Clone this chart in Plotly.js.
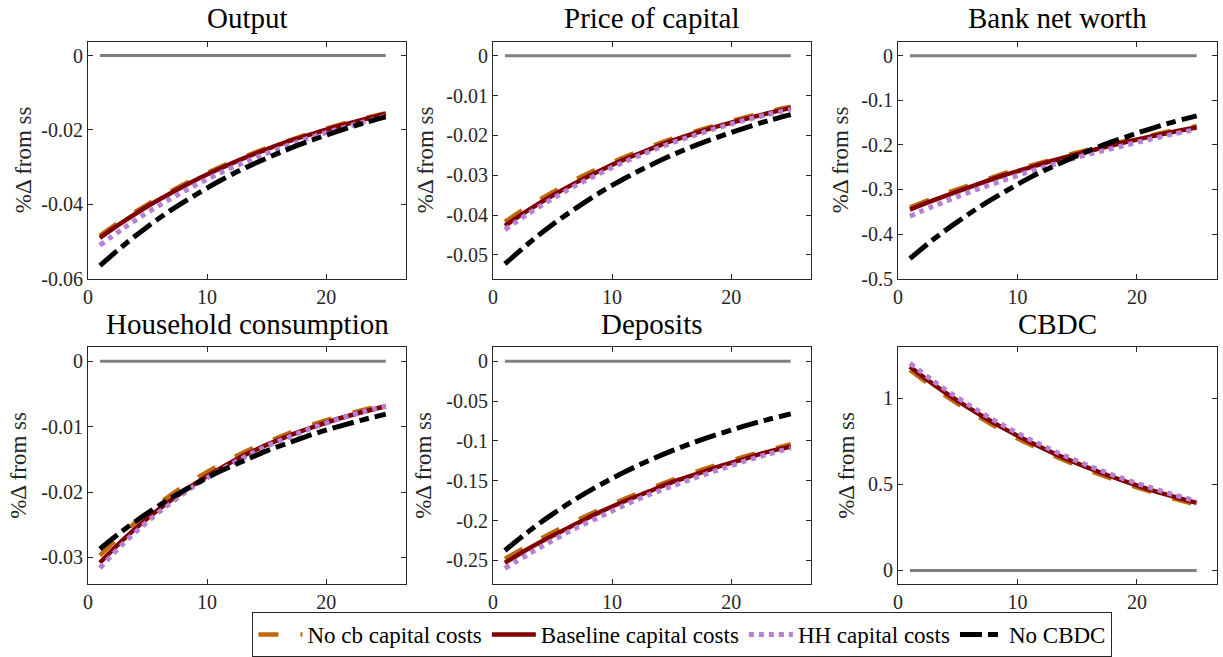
<!DOCTYPE html>
<html>
<head>
<meta charset="utf-8">
<script src="https://cdn.plot.ly/plotly-3.0.1.min.js"></script>
<style>
  html, body { margin: 0; padding: 0; background: #ffffff; }
  #chart { width: 1223px; height: 657px; }
</style>
</head>
<body>
<div id="chart"></div>
<script>
// ---------------- DATA ----------------
const periods = [1, 3, 5, 7, 9, 11, 13, 15, 17, 19, 21, 23, 25];

const panelTitles = ['Output', 'Price of capital', 'Bank net worth',
                     'Household consumption', 'Deposits', 'CBDC'];
const seriesNames = ['No cb capital costs', 'Baseline capital costs', 'HH capital costs', 'No CBDC'];
const yLabel = '%\u0394 from ss';

// Output
const outputNoCb   = [-0.0484,-0.0440,-0.0400,-0.0364,-0.0331,-0.0301,-0.0274,-0.0249,-0.0227,-0.0206,-0.0187,-0.0170,-0.0155];
const outputBase   = [-0.0490,-0.0446,-0.0405,-0.0369,-0.0335,-0.0305,-0.0277,-0.0252,-0.0229,-0.0209,-0.0190,-0.0173,-0.0157];
const outputHH     = [-0.0510,-0.0464,-0.0422,-0.0384,-0.0349,-0.0317,-0.0289,-0.0263,-0.0239,-0.0217,-0.0198,-0.0180,-0.0163];
const outputNoCBDC = [-0.0565,-0.0510,-0.0460,-0.0415,-0.0375,-0.0338,-0.0305,-0.0276,-0.0249,-0.0225,-0.0203,-0.0183,-0.0165];

// Price of capital
const priceNoCb   = [-0.0417,-0.0378,-0.0343,-0.0310,-0.0281,-0.0255,-0.0231,-0.0209,-0.0190,-0.0172,-0.0156,-0.0141,-0.0128];
const priceBase   = [-0.0427,-0.0387,-0.0351,-0.0318,-0.0288,-0.0261,-0.0237,-0.0214,-0.0194,-0.0176,-0.0160,-0.0145,-0.0131];
const priceHH     = [-0.0437,-0.0396,-0.0359,-0.0325,-0.0295,-0.0267,-0.0242,-0.0219,-0.0199,-0.0180,-0.0163,-0.0148,-0.0135];
const priceNoCBDC = [-0.0523,-0.0471,-0.0424,-0.0382,-0.0343,-0.0309,-0.0278,-0.0250,-0.0225,-0.0203,-0.0183,-0.0164,-0.0148];

// Bank net worth
const nwNoCb   = [-0.340,-0.319,-0.299,-0.281,-0.263,-0.247,-0.232,-0.217,-0.204,-0.191,-0.180,-0.168,-0.158];
const nwBase   = [-0.345,-0.324,-0.304,-0.285,-0.267,-0.251,-0.235,-0.221,-0.207,-0.194,-0.182,-0.171,-0.161];
const nwHH     = [-0.360,-0.337,-0.316,-0.296,-0.278,-0.260,-0.244,-0.228,-0.214,-0.201,-0.188,-0.176,-0.165];
const nwNoCBDC = [-0.455,-0.411,-0.372,-0.336,-0.304,-0.274,-0.248,-0.224,-0.202,-0.183,-0.165,-0.149,-0.135];

// Household consumption
const consNoCb   = [-0.0297,-0.0262,-0.0231,-0.0204,-0.0180,-0.0159,-0.0140,-0.0124,-0.0109,-0.0096,-0.0085,-0.0075,-0.0066];
const consBase   = [-0.0308,-0.0272,-0.0240,-0.0212,-0.0187,-0.0165,-0.0145,-0.0128,-0.0113,-0.0100,-0.0088,-0.0078,-0.0069];
const consHH     = [-0.0316,-0.0278,-0.0245,-0.0216,-0.0190,-0.0168,-0.0148,-0.0130,-0.0115,-0.0101,-0.0089,-0.0078,-0.0069];
const consNoCBDC = [-0.0287,-0.0258,-0.0232,-0.0209,-0.0188,-0.0169,-0.0153,-0.0137,-0.0124,-0.0111,-0.0100,-0.0090,-0.0081];

// Deposits
const depNoCb   = [-0.248,-0.231,-0.215,-0.200,-0.186,-0.173,-0.161,-0.149,-0.139,-0.129,-0.120,-0.112,-0.104];
const depBase   = [-0.253,-0.235,-0.219,-0.204,-0.189,-0.176,-0.164,-0.152,-0.142,-0.132,-0.123,-0.114,-0.107];
const depHH     = [-0.260,-0.242,-0.225,-0.209,-0.195,-0.181,-0.168,-0.157,-0.146,-0.136,-0.126,-0.117,-0.109];
const depNoCBDC = [-0.2375,-0.2135,-0.1919,-0.1724,-0.1550,-0.1393,-0.1252,-0.1125,-0.1011,-0.0909,-0.0817,-0.0734,-0.0660];

// CBDC (no "No CBDC" line)
const cbdcNoCb = [1.164,1.061,0.967,0.881,0.803,0.732,0.667,0.608,0.554,0.505,0.460,0.419,0.382];
const cbdcBase = [1.183,1.079,0.984,0.898,0.819,0.747,0.681,0.621,0.567,0.517,0.471,0.430,0.392];
const cbdcHH   = [1.203,1.098,1.002,0.915,0.835,0.762,0.695,0.635,0.579,0.529,0.483,0.441,0.402];

const steadyState = [0, 0];

// tick labels
const xTickVals = [0, 10, 20];
const xTickText = ['0', '10', '20'];
const yTicks1 = [0, -0.02, -0.04, -0.06];
const yText1  = ['0', '-0.02', '-0.04', '-0.06'];
const yTicks2 = [0, -0.01, -0.02, -0.03, -0.04, -0.05];
const yText2  = ['0', '-0.01', '-0.02', '-0.03', '-0.04', '-0.05'];
const yTicks3 = [0, -0.1, -0.2, -0.3, -0.4, -0.5];
const yText3  = ['0', '-0.1', '-0.2', '-0.3', '-0.4', '-0.5'];
const yTicks4 = [0, -0.01, -0.02, -0.03];
const yText4  = ['0', '-0.01', '-0.02', '-0.03'];
const yTicks5 = [0, -0.05, -0.1, -0.15, -0.2, -0.25];
const yText5  = ['0', '-0.05', '-0.1', '-0.15', '-0.2', '-0.25'];
const yTicks6 = [0, 0.5, 1];
const yText6  = ['0', '0.5', '1'];

// ---------------- BUILD ----------------
const panels = [
  {series: [outputNoCb, outputBase, outputHH, outputNoCBDC], tv: yTicks1, tt: yText1, range: [-0.06, 0.0037]},
  {series: [priceNoCb, priceBase, priceHH, priceNoCBDC],     tv: yTicks2, tt: yText2, range: [-0.056, 0.0035]},
  {series: [nwNoCb, nwBase, nwHH, nwNoCBDC],                 tv: yTicks3, tt: yText3, range: [-0.5, 0.031]},
  {series: [consNoCb, consBase, consHH, consNoCBDC],         tv: yTicks4, tt: yText4, range: [-0.0341, 0.0021]},
  {series: [depNoCb, depBase, depHH, depNoCBDC],             tv: yTicks5, tt: yText5, range: [-0.28, 0.0175]},
  {series: [cbdcNoCb, cbdcBase, cbdcHH, null],               tv: yTicks6, tt: yText6, range: [-0.081, 1.295]}
];

const lineStyles = [
  {color: '#BF6A0A', width: 4.5, dash: '20px,22px'},
  {color: '#800000', width: 4.5, dash: 'solid'},
  {color: '#B77FD6', width: 5,   dash: '5px,5px'},
  {color: '#000000', width: 5,   dash: '22px,6px,10px,6px'}
];

const W = 1223, H = 657;
const xDomPx = [[88, 406], [493, 811], [898, 1217]];
const yDomPx = [[42, 280], [349, 587]];
const labelX = [23, 425, 840, 19, 424, 847];

const FONT = "'Liberation Serif', 'DejaVu Serif', serif";
const AX = '#262626';

const traces = [];
const layout = {
  width: W, height: H,
  margin: {l: 0, r: 0, t: 0, b: 0},
  paper_bgcolor: '#ffffff',
  plot_bgcolor: '#ffffff',
  font: {family: FONT},
  showlegend: true,
  legend: {
    orientation: 'h',
    x: 0.558, xanchor: 'center',
    y: (H - 637.5) / H, yanchor: 'middle',
    bordercolor: AX, borderwidth: 1, bgcolor: '#ffffff',
    font: {family: FONT, size: 23, color: '#000000'},
    itemwidth: 44, tracegroupgap: 0
  },
  annotations: []
};

panels.forEach((p, i) => {
  const row = Math.floor(i / 3), col = i % 3;
  const k = i + 1;
  const xa = 'x' + (k === 1 ? '' : k);
  const ya = 'y' + (k === 1 ? '' : k);

  traces.push({
    x: [periods[0], periods[periods.length - 1]], y: steadyState,
    xaxis: xa, yaxis: ya, mode: 'lines', showlegend: false, hoverinfo: 'skip',
    line: {color: '#808080', width: 3}
  });
  p.series.forEach((s, j) => {
    if (!s) return;
    traces.push({
      x: periods, y: s, xaxis: xa, yaxis: ya, mode: 'lines',
      name: seriesNames[j], showlegend: i === 0, legendrank: j + 1,
      line: Object.assign({shape: 'spline', smoothing: 1}, lineStyles[j])
    });
  });

  const xd = xDomPx[col], yd = yDomPx[row];
  const common = {
    showline: true, mirror: 'ticks', linecolor: AX, linewidth: 1,
    ticks: 'inside', ticklen: 5, tickcolor: AX, tickwidth: 1,
    showgrid: false, zeroline: false, fixedrange: true,
    tickfont: {family: FONT, size: 20, color: AX}
  };
  layout['xaxis' + (k === 1 ? '' : k)] = Object.assign({}, common, {
    domain: [xd[0] / W, xd[1] / W], anchor: ya, range: [0, 26.7],
    tickmode: 'array', tickvals: xTickVals, ticktext: xTickText
  });
  layout['yaxis' + (k === 1 ? '' : k)] = Object.assign({}, common, {
    domain: [(H - yd[1]) / H, (H - yd[0]) / H], anchor: xa, range: p.range,
    tickmode: 'array', tickvals: p.tv, ticktext: p.tt
  });

  layout.annotations.push({
    text: panelTitles[i], xref: 'paper', yref: 'paper',
    x: (xd[0] + xd[1]) / 2 / W, y: (H - (row === 0 ? 18 : 325)) / H,
    xanchor: 'center', yanchor: 'middle', showarrow: false,
    font: {family: FONT, size: 29, color: '#000000'}
  });
  layout.annotations.push({
    text: yLabel, xref: 'paper', yref: 'paper',
    x: labelX[i] / W, y: (H - (yd[0] + yd[1]) / 2) / H,
    xanchor: 'center', yanchor: 'middle', textangle: -90, showarrow: false,
    font: {family: FONT, size: 23, color: AX}
  });
});

Plotly.newPlot('chart', traces, layout, {staticPlot: true, displayModeBar: false});
</script>
</body>
</html>
